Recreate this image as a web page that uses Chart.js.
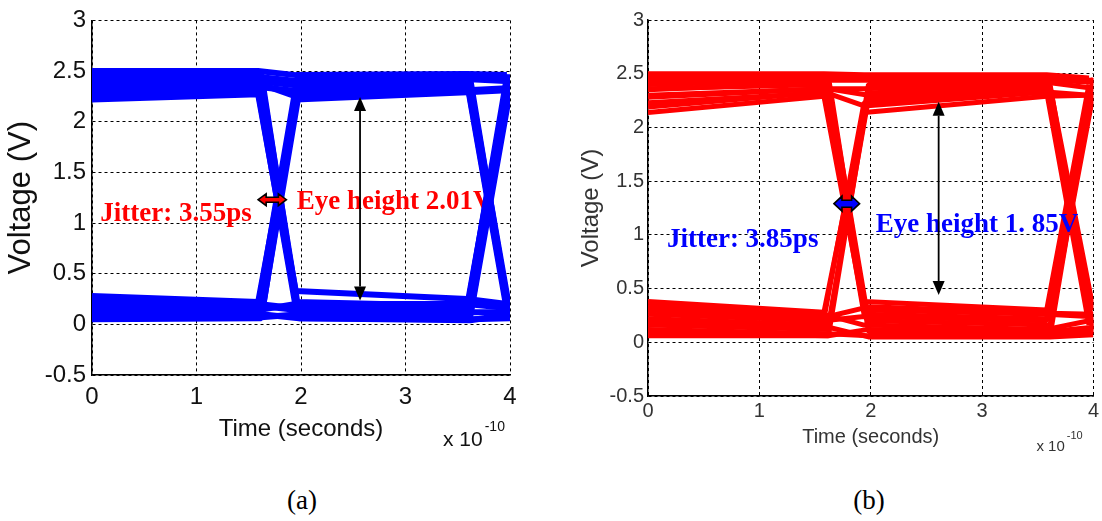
<!DOCTYPE html>
<html>
<head>
<meta charset="utf-8">
<title>Eye diagrams</title>
<script src="https://cdn.jsdelivr.net/npm/chart.js@4.4.1/dist/chart.umd.min.js"></script>
<style>
    html, body { margin: 0; padding: 0; background: #fff; }
    body { width: 1102px; height: 521px; position: relative; overflow: hidden; }
    .panel { position: absolute; top: 0; }
    #panelA { left: 0; }
    #panelB { left: 560px; }
    .caption {
        position: absolute;
        font-family: "Liberation Serif", "Times New Roman", serif;
        font-size: 27px;
        color: #000;
        transform: translate(-50%, -50%);
    }
</style>
</head>
<body>
<div class="panel" id="panelA"><canvas id="eyeA" width="560" height="470"></canvas></div>
<div class="panel" id="panelB"><canvas id="eyeB" width="542" height="470"></canvas></div>
<div class="caption" style="left:302px; top:500px;">(a)</div>
<div class="caption" style="left:869px; top:500px;">(b)</div>
<script>
// axis ticks (time in units of 1e-10 s)
const timeTicks = [0, 1, 2, 3, 4];
const voltTicks = [-0.5, 0, 0.5, 1, 1.5, 2, 2.5, 3];
const voltLabels = ['-0.5', '0', '0.5', '1', '1.5', '2', '2.5', '3'];

// sample instants of every trace: early edge / late edge
const timesA = [
    [0, 1.59, 1.95, 3.59, 3.97],
    [0, 1.62, 1.98, 3.62, 4.00]
];
const timesB = [
    [0, 1.58, 1.94, 3.58, 3.96],
    [0, 1.62, 1.98, 3.61, 4.00]
];

// (a) voltage of each trace at the instants above
const tracesA = [
    [2.50, 2.50, 2.46, 2.47, 2.46],
    [2.42, 2.44, 2.40, 2.42, 2.40],
    [2.35, 2.40, 2.36, 2.40, 0.18],
    [2.28, 2.34, 2.30, 2.36, 0.12],
    [2.22, 2.27, 0.22, 0.18, 2.35],
    [2.38, 2.42, 0.12, 0.10, 2.42],
    [2.30, 2.36, 0.33, 0.25, 0.20],
    [2.45, 2.47, 0.06, 0.05, 0.06],
    [0.28, 0.22, 2.22, 2.29, 2.31],
    [0.15, 0.12, 2.44, 2.45, 2.44],
    [0.20, 0.17, 2.34, 2.38, 0.14],
    [0.10, 0.08, 2.28, 2.33, 0.08],
    [0.24, 0.20, 0.16, 0.14, 2.38],
    [0.08, 0.07, 0.10, 0.08, 2.30],
    [0.18, 0.14, 0.20, 0.20, 0.16],
    [0.12, 0.10, 0.06, 0.04, 0.10],
    [2.33, 2.38, 2.25, 2.31, 2.33],
    [0.24, 0.18, 0.14, 0.12, 0.12],
    [2.26, 2.30, 0.17, 0.14, 2.44],
    [0.05, 0.06, 2.39, 2.42, 0.05]
];

// (b)
const tracesB = [
    [2.50, 2.50, 2.49, 2.49, 2.46],
    [2.40, 2.44, 2.44, 2.45, 2.44],
    [2.46, 2.48, 2.47, 2.47, 0.22],
    [2.30, 2.36, 2.30, 2.38, 0.30],
    [2.23, 2.32, 0.38, 0.30, 2.40],
    [2.36, 2.40, 0.20, 0.16, 2.32],
    [2.14, 2.29, 0.30, 0.26, 0.24],
    [2.44, 2.47, 0.10, 0.08, 0.10],
    [0.38, 0.28, 2.14, 2.29, 2.30],
    [0.16, 0.12, 2.40, 2.44, 2.42],
    [0.30, 0.22, 2.23, 2.33, 0.16],
    [0.09, 0.06, 2.32, 2.40, 0.08],
    [0.26, 0.20, 0.24, 0.20, 2.36],
    [0.12, 0.08, 0.06, 0.06, 2.46],
    [0.34, 0.26, 0.16, 0.12, 0.20],
    [0.20, 0.14, 0.05, 0.05, 0.07],
    [2.28, 2.36, 2.36, 2.42, 2.37],
    [0.06, 0.06, 0.12, 0.10, 0.14],
    [2.19, 2.33, 2.20, 2.33, 2.30],
    [0.32, 0.24, 0.33, 0.27, 0.26],
    [2.35, 2.42, 0.26, 0.22, 2.27],
    [0.22, 0.16, 2.27, 2.36, 0.12]
];

// annotations: [t1, t2, V] for jitter arrow, [t, Vtop, Vbottom] for eye arrow
const notesA = {
    jitterText: 'Jitter: 3.55ps', jitterAt: [0.08, 1.02],
    eyeText: 'Eye height 2.01V', eyeAt: [1.96, 1.14],
    jitterArrow: [1.59, 1.86, 1.23],
    eyeArrow: [2.565, 2.245, 0.235]
};
const notesB = {
    jitterText: 'Jitter: 3.85ps', jitterAt: [0.17, 0.89],
    eyeText: 'Eye height 1. 85V', eyeAt: [2.045, 1.03],
    jitterArrow: [1.67, 1.90, 1.29],
    eyeArrow: [2.61, 2.24, 0.44]
};

function hArrow(ctx, x1, x2, yc, head, shaft, fill) {
    const hl = 8;
    ctx.beginPath();
    ctx.moveTo(x1, yc);
    ctx.lineTo(x1 + hl, yc - head);
    ctx.lineTo(x1 + hl, yc - shaft);
    ctx.lineTo(x2 - hl, yc - shaft);
    ctx.lineTo(x2 - hl, yc - head);
    ctx.lineTo(x2, yc);
    ctx.lineTo(x2 - hl, yc + head);
    ctx.lineTo(x2 - hl, yc + shaft);
    ctx.lineTo(x1 + hl, yc + shaft);
    ctx.lineTo(x1 + hl, yc + head);
    ctx.closePath();
    ctx.fillStyle = fill;
    ctx.fill();
    ctx.lineWidth = 1.6;
    ctx.strokeStyle = '#000';
    ctx.stroke();
}

function vArrow(ctx, x, yTop, yBot) {
    const hl = 14, hw = 6;
    ctx.strokeStyle = '#000';
    ctx.fillStyle = '#000';
    ctx.lineWidth = 1.8;
    ctx.beginPath();
    ctx.moveTo(x, yTop + hl);
    ctx.lineTo(x, yBot - hl);
    ctx.stroke();
    ctx.beginPath();
    ctx.moveTo(x, yTop);
    ctx.lineTo(x - hw, yTop + hl);
    ctx.lineTo(x + hw, yTop + hl);
    ctx.closePath();
    ctx.fill();
    ctx.beginPath();
    ctx.moveTo(x, yBot);
    ctx.lineTo(x - hw, yBot - hl);
    ctx.lineTo(x + hw, yBot - hl);
    ctx.closePath();
    ctx.fill();
}

function drawLabels(chart, opts) {
    const { ctx } = chart;
    const x = chart.scales.x, y = chart.scales.y;
    const n = opts.notes;
    ctx.save();
    ctx.font = 'bold ' + opts.textSize + 'px "Liberation Serif", "Times New Roman", serif';
    ctx.fillStyle = opts.textColor;
    ctx.textAlign = 'left';
    ctx.textBaseline = 'alphabetic';
    ctx.fillText(n.jitterText, x.getPixelForValue(n.jitterAt[0]), y.getPixelForValue(n.jitterAt[1]));
    ctx.fillText(n.eyeText, x.getPixelForValue(n.eyeAt[0]), y.getPixelForValue(n.eyeAt[1]));
    ctx.restore();
}

const eyeNotes = {
    id: 'eyeNotes',
    beforeDatasetsDraw(chart, args, opts) {
        if (!opts.textOnTop) drawLabels(chart, opts);
    },
    afterDatasetsDraw(chart, args, opts) {
        const { ctx, chartArea } = chart;
        const x = chart.scales.x, y = chart.scales.y;
        const n = opts.notes;
        if (opts.textOnTop) drawLabels(chart, opts);
        ctx.save();

        const ja = n.jitterArrow;
        hArrow(ctx, x.getPixelForValue(ja[0]), x.getPixelForValue(ja[1]), y.getPixelForValue(ja[2]),
            opts.arrowHead, opts.arrowShaft, opts.arrowColor);

        const ea = n.eyeArrow;
        vArrow(ctx, x.getPixelForValue(ea[0]), y.getPixelForValue(ea[1]), y.getPixelForValue(ea[2]));

        // x 10^-10 multiplier under the time axis
        const e = opts.expo;
        ctx.fillStyle = e.color;
        ctx.textAlign = 'left';
        ctx.textBaseline = 'middle';
        ctx.font = e.size + 'px "Liberation Sans", Arial, sans-serif';
        const bx = chartArea.right - e.dx, by = chartArea.bottom + e.dy;
        ctx.fillText('x 10', bx, by);
        const w = ctx.measureText('x 10').width;
        ctx.font = e.supSize + 'px "Liberation Sans", Arial, sans-serif';
        ctx.fillText('-10', bx + w + 2, by - e.supDy);
        ctx.restore();
    }
};

function makeDatasets(traces, times, color, width) {
    return traces.map((v, i) => ({
        data: v.map((val, k) => ({ x: times[i % 2][k], y: val })),
        borderColor: color,
        borderWidth: width,
        borderJoinStyle: 'bevel',
        pointRadius: 0,
        tension: 0,
        fill: false,
        clip: 0
    }));
}

function makeChart(id, cfg) {
    const sans = '"Liberation Sans", Arial, sans-serif';
    return new Chart(document.getElementById(id), {
        type: 'line',
        data: { datasets: makeDatasets(cfg.traces, cfg.times, cfg.color, cfg.lineWidth) },
        plugins: [eyeNotes],
        options: {
            responsive: false,
            animation: false,
            events: [],
            layout: { padding: cfg.padding },
            plugins: {
                legend: { display: false },
                tooltip: { enabled: false },
                eyeNotes: cfg.notesOpts
            },
            scales: {
                x: {
                    type: 'linear',
                    min: timeTicks[0],
                    max: timeTicks[timeTicks.length - 1],
                    afterBuildTicks: s => { s.ticks = timeTicks.map(v => ({ value: v })); },
                    afterFit: s => { s.height = cfg.xHeight; },
                    grid: { color: '#000', lineWidth: 1, drawTicks: false },
                    border: { display: true, color: '#000', width: 1.5, dash: [3, 3] },
                    ticks: {
                        padding: cfg.xTickPad,
                        color: cfg.tickColor,
                        maxRotation: 0,
                        font: { family: sans, size: cfg.tickSize },
                        callback: v => String(v)
                    },
                    title: {
                        display: true,
                        text: 'Time (seconds)',
                        color: cfg.tickColor,
                        font: { family: sans, size: cfg.xTitleSize },
                        padding: { top: 0, bottom: cfg.xTitlePad }
                    }
                },
                y: {
                    type: 'linear',
                    min: voltTicks[0],
                    max: voltTicks[voltTicks.length - 1],
                    afterBuildTicks: s => { s.ticks = voltTicks.map(v => ({ value: v })); },
                    afterFit: s => { s.width = cfg.yWidth; },
                    grid: { color: '#000', lineWidth: 1, drawTicks: false },
                    border: { display: true, color: '#000', width: 1.5, dash: [3, 3] },
                    ticks: {
                        padding: cfg.yTickPad,
                        color: cfg.tickColor,
                        font: { family: sans, size: cfg.tickSize },
                        callback: v => voltLabels[voltTicks.indexOf(v)]
                    },
                    title: {
                        display: true,
                        text: 'Voltage (V)',
                        color: cfg.tickColor,
                        font: { family: sans, size: cfg.yTitleSize },
                        padding: { top: cfg.yTitlePad, bottom: 0 }
                    }
                }
            }
        }
    });
}

makeChart('eyeA', {
    traces: tracesA, times: timesA, color: '#0000ff', lineWidth: 6,
    padding: { left: 0, top: 18, right: 50, bottom: 0 },
    xHeight: 95, yWidth: 92,
    tickColor: '#111', tickSize: 24,
    xTickPad: 8, yTickPad: 6,
    xTitleSize: 24, xTitlePad: 26,
    yTitleSize: 31, yTitlePad: 3,
    notesOpts: {
        notes: notesA, textSize: 27, textColor: '#ff0000', textOnTop: false,
        arrowColor: '#ff0000', arrowHead: 6, arrowShaft: 2.5,
        expo: { dx: 67, dy: 65, size: 21, supSize: 14, supDy: 13, color: '#111' }
    }
});

makeChart('eyeB', {
    traces: tracesB, times: timesB, color: '#ff0000', lineWidth: 5,
    padding: { left: 0, top: 20, right: 8, bottom: 0 },
    xHeight: 74, yWidth: 88,
    tickColor: '#333', tickSize: 20,
    xTickPad: 3, yTickPad: 4,
    xTitleSize: 20, xTitlePad: 21,
    yTitleSize: 24, yTitlePad: 17,
    notesOpts: {
        notes: notesB, textSize: 27, textColor: '#0000ff', textOnTop: true,
        arrowColor: '#0000ff', arrowHead: 7.5, arrowShaft: 3.5,
        expo: { dx: 57, dy: 51, size: 15, supSize: 11, supDy: 11, color: '#333' }
    }
});
</script>
</body>
</html>
